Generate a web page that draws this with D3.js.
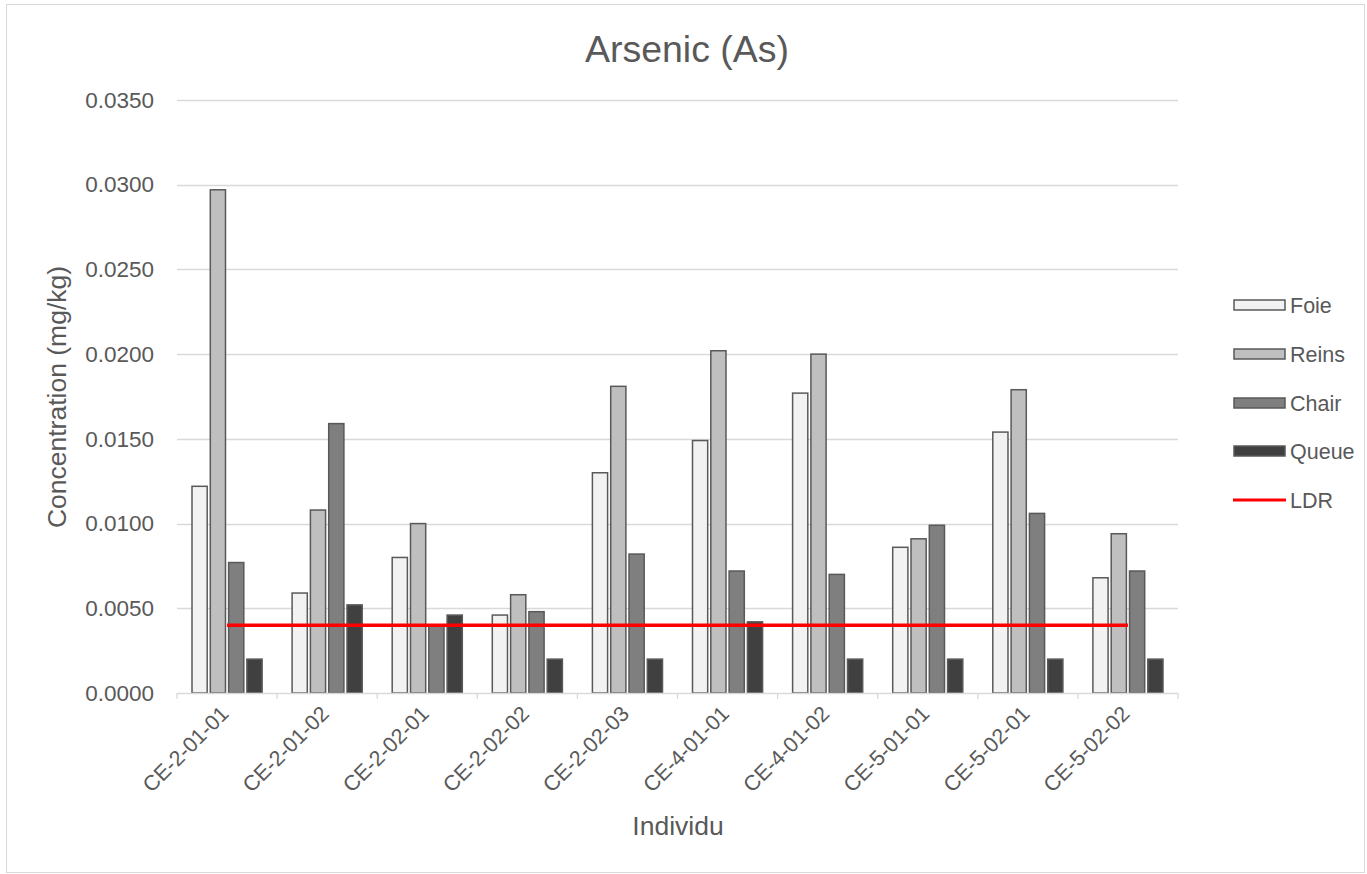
<!DOCTYPE html>
<html><head><meta charset="utf-8">
<script src="https://cdn.jsdelivr.net/npm/d3@7/dist/d3.min.js"></script>
<style>
body{margin:0;background:#fff;}
svg{display:block;font-family:"Liberation Sans",Arial,sans-serif;}
</style></head>
<body><svg id="c" width="1367" height="874"></svg>
<script>
const categories = ["CE-2-01-01","CE-2-01-02","CE-2-02-01","CE-2-02-02","CE-2-02-03","CE-4-01-01","CE-4-01-02","CE-5-01-01","CE-5-02-01","CE-5-02-02"];
const seriesNames = ["Foie","Reins","Chair","Queue"];
const foie  = [0.0122,0.0059,0.0080,0.0046,0.0130,0.0149,0.0177,0.0086,0.0154,0.0068];
const reins = [0.0297,0.0108,0.0100,0.0058,0.0181,0.0202,0.0200,0.0091,0.0179,0.0094];
const chair = [0.0077,0.0159,0.0040,0.0048,0.0082,0.0072,0.0070,0.0099,0.0106,0.0072];
const queue = [0.0020,0.0052,0.0046,0.0020,0.0020,0.0042,0.0020,0.0020,0.0020,0.0020];
const ldr   = [0.004,0.004,0.004,0.004,0.004,0.004,0.004,0.004,0.004,0.004];
const yTicks = [0,0.005,0.01,0.015,0.02,0.025,0.03,0.035];
const colors = ["#f2f2f2","#bfbfbf","#7f7f7f","#404040"];

const svg = d3.select("#c");
svg.append("rect").attr("x",6.5).attr("y",4.5).attr("width",1358).attr("height",868)
  .attr("fill","#fff").attr("stroke","#d9d9d9").attr("stroke-width",1);

const L=177,R=1178,T=100,B=693;
const x = d3.scaleBand().domain(categories).range([L,R]).paddingInner(0).paddingOuter(0);
const y = d3.scaleLinear().domain([0,0.035]).range([B,T]);
const xs = d3.scaleBand().domain(seriesNames).range([15,x.bandwidth()-15]).paddingInner(0.17);

// gridlines
svg.append("g").selectAll("line").data(yTicks.filter(d=>d>0)).join("line")
  .attr("x1",L).attr("x2",R).attr("y1",d=>Math.round(y(d))+0.5).attr("y2",d=>Math.round(y(d))+0.5)
  .attr("stroke","#d9d9d9").attr("stroke-width",1.3);

// y axis labels
const yAxis = d3.axisLeft(y).tickValues(yTicks).tickFormat(d3.format(".4f")).tickSize(0).tickPadding(23);
const ya = svg.append("g").attr("transform",`translate(${L},0)`).call(yAxis);
ya.select(".domain").remove();
ya.selectAll("text").attr("font-size",22.5).attr("fill","#595959").attr("font-family","Liberation Sans,Arial,sans-serif");

// bars
const data = [foie,reins,chair,queue];
const g = svg.append("g");
categories.forEach((c,i)=>{
  seriesNames.forEach((s,j)=>{
    const v=data[j][i];
    g.append("rect").attr("x",x(c)+xs(s)).attr("y",y(v)).attr("width",xs.bandwidth()).attr("height",B-y(v))
      .attr("fill",colors[j]).attr("stroke","#595959").attr("stroke-width",1.5);
  });
});

// x axis
const xAxis = d3.axisBottom(x).tickSize(0).tickPadding(0);
const xa = svg.append("g").attr("transform",`translate(0,${B})`).call(xAxis);
xa.select(".domain").remove();
xa.selectAll("text").remove();
svg.append("line").attr("x1",L).attr("x2",R).attr("y1",B+0.5).attr("y2",B+0.5).attr("stroke","#d9d9d9").attr("stroke-width",1.3);
const bounds = categories.map(c=>x(c)).concat([R]);
svg.append("g").selectAll("line").data(bounds).join("line")
  .attr("x1",d=>d).attr("x2",d=>d).attr("y1",B).attr("y2",B+6).attr("stroke","#d9d9d9").attr("stroke-width",1.3);
svg.append("g").selectAll("text").data(categories).join("text")
  .attr("transform",d=>`translate(${x(d)+x.bandwidth()/2+3},${B+22}) rotate(-45)`)
  .attr("text-anchor","end").attr("font-size",21.5).attr("fill","#595959").text(d=>d);

// LDR line
const line = d3.line().x((d,i)=>x(categories[i])+x.bandwidth()/2).y(d=>y(d));
svg.append("path").datum(ldr).attr("d",line).attr("fill","none").attr("stroke","#ff0000").attr("stroke-width",3.5);

// titles
svg.append("text").attr("x",687).attr("y",62).attr("text-anchor","middle").attr("font-size",37.5).attr("fill","#595959").text("Arsenic (As)");
svg.append("text").attr("x",678).attr("y",835).attr("text-anchor","middle").attr("font-size",26.5).attr("fill","#595959").text("Individu");
svg.append("text").attr("transform","translate(66,397) rotate(-90)").attr("text-anchor","middle").attr("font-size",26.5).attr("fill","#595959").text("Concentration (mg/kg)");

// legend
const legY=[305,354,403,451,500];
seriesNames.forEach((s,j)=>{
  svg.append("rect").attr("x",1234).attr("y",legY[j]-5).attr("width",51).attr("height",10)
    .attr("fill",colors[j]).attr("stroke","#595959").attr("stroke-width",1.5);
  svg.append("text").attr("x",1290).attr("y",legY[j]+7.5).attr("font-size",21.5).attr("fill","#595959").text(s);
});
svg.append("line").attr("x1",1233).attr("x2",1286).attr("y1",legY[4]).attr("y2",legY[4]).attr("stroke","#ff0000").attr("stroke-width",3);
svg.append("text").attr("x",1290).attr("y",legY[4]+7.5).attr("font-size",21.5).attr("fill","#595959").text("LDR");
</script></body></html>
